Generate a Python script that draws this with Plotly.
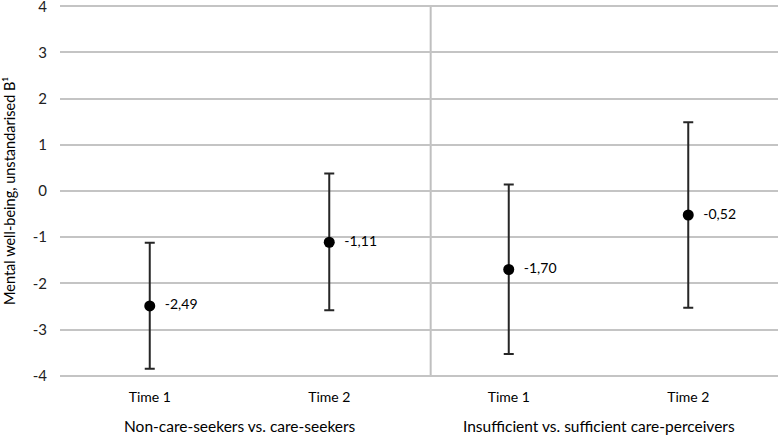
import plotly.graph_objects as go

# Data
groups = ["Non-care-seekers vs. care-seekers", "Insufficient vs. sufficient care-perceivers"]
time_labels = ["Time 1", "Time 2", "Time 1", "Time 2"]
estimates = [-2.49, -1.11, -1.70, -0.52]
ci_upper = [-1.12, 0.38, 0.14, 1.49]
ci_lower = [-3.85, -2.58, -3.53, -2.53]
y_ticks = [-4, -3, -2, -1, 0, 1, 2, 3, 4]

xpos = list(range(len(estimates)))
err_plus = [u - e for u, e in zip(ci_upper, estimates)]
err_minus = [e - l for l, e in zip(ci_lower, estimates)]
text_labels = ["  " + f"{v:.2f}".replace(".", ",") for v in estimates]
y_ticktext = [str(v) for v in y_ticks]

FONT = "Lato"

fig = go.Figure()
fig.add_trace(go.Scatter(
    x=xpos, y=estimates,
    mode="markers+text",
    marker=dict(color="black", size=11),
    error_y=dict(type="data", symmetric=False, array=err_plus, arrayminus=err_minus,
                 color="#262626", thickness=2, width=5),
    text=text_labels,
    textposition="middle right",
    textfont=dict(family=FONT, size=14, color="black"),
    cliponaxis=False,
    showlegend=False,
    hoverinfo="skip",
))

# separator between groups
fig.add_shape(type="line", xref="x", yref="y", x0=1.565, x1=1.565, y0=-4, y1=4,
              line=dict(color="#bfbfbf", width=2), layer="below")

# group labels
for i, g in enumerate(groups):
    fig.add_annotation(x=2 * i + 0.5, xref="x", y=-0.128, yref="paper",
                       text=g, showarrow=False, yanchor="middle",
                       font=dict(family=FONT, size=15.5, color="black"))

# y axis title
fig.add_annotation(x=-51 / 718, xref="paper", y=0.5, yref="paper", textangle=-90,
                   text="Mental well-being, unstandarised B¹", showarrow=False,
                   xanchor="center", yanchor="middle",
                   font=dict(family=FONT, size=14.5, color="black"))

fig.update_layout(
    width=778, height=436,
    margin=dict(l=60, r=0, t=3.7, b=58, autoexpand=False),
    paper_bgcolor="white", plot_bgcolor="white",
    font=dict(family=FONT, color="black"),
    xaxis=dict(range=[-0.5, 3.5], tickvals=xpos, ticktext=time_labels, automargin=False,
               showgrid=False, zeroline=False, showline=False, ticks="",
               ticklabelstandoff=9, ticklabeloverflow="allow",
               tickfont=dict(family=FONT, size=14, color="black")),
    yaxis=dict(range=[-4.05, 4.05], tickvals=y_ticks, ticktext=y_ticktext, automargin=False,
               showgrid=True, gridcolor="#c4c4c4",
               gridwidth=2, zeroline=False, showline=False, ticks="",
               tickfont=dict(family=FONT, size=15, color="#222"),
               ticklabelstandoff=12, ticklabeloverflow="allow"),
)

fig.write_html("out.html", config={"displayModeBar": False},
               post_script="document.body.style.margin='0';document.body.style.padding='0';")
